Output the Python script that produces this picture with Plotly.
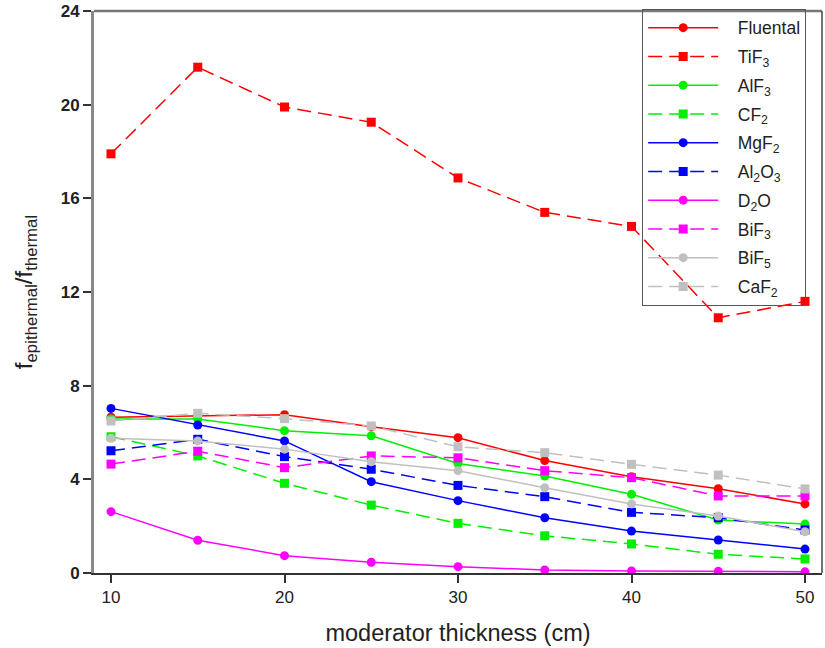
import plotly.graph_objects as go

x = [10, 15, 20, 25, 30, 35, 40, 45, 50]
fluental = [6.65, 6.7, 6.76, 6.25, 5.78, 4.8, 4.11, 3.6, 2.95]
tif3 = [17.9, 21.6, 19.9, 19.25, 16.87, 15.4, 14.8, 10.9, 11.6]
alf3 = [6.58, 6.58, 6.08, 5.86, 4.68, 4.14, 3.36, 2.26, 2.09]
cf2 = [5.82, 5.0, 3.83, 2.9, 2.12, 1.59, 1.24, 0.8, 0.6]
mgf2 = [7.03, 6.32, 5.64, 3.9, 3.09, 2.36, 1.79, 1.41, 1.02]
al2o3 = [5.22, 5.71, 4.97, 4.43, 3.74, 3.26, 2.59, 2.36, 1.84]
d2o = [2.62, 1.40, 0.74, 0.46, 0.27, 0.13, 0.09, 0.07, 0.05]
bif3 = [4.65, 5.2, 4.5, 5.0, 4.92, 4.37, 4.07, 3.29, 3.29]
bif5 = [5.75, 5.64, 5.29, 4.75, 4.37, 3.64, 2.95, 2.43, 1.76]
caf2 = [6.49, 6.82, 6.59, 6.28, 5.39, 5.14, 4.64, 4.18, 3.59]

names = ["Fluental", "TiF<sub>3</sub>", "AlF<sub>3</sub>", "CF<sub>2</sub>", "MgF<sub>2</sub>",
         "Al<sub>2</sub>O<sub>3</sub>", "D<sub>2</sub>O", "BiF<sub>3</sub>", "BiF<sub>5</sub>", "CaF<sub>2</sub>"]
series = [fluental, tif3, alf3, cf2, mgf2, al2o3, d2o, bif3, bif5, caf2]
colors = ["#FF0000", "#FF0000", "#00F000", "#00F000", "#0000FF", "#0000FF",
          "#FF00FF", "#FF00FF", "#C0C0C0", "#C0C0C0"]
dashed = [False, True] * 5

FONT = "Arial, Liberation Sans, sans-serif"

fig = go.Figure()
for i, (name, y, c, d) in enumerate(zip(names, series, colors, dashed)):
    fig.add_trace(go.Scatter(
        x=x, y=y, name="&nbsp;&nbsp;&nbsp;" + name, mode="lines+markers",
        legendgroup="g%d" % i,
        line=dict(color=c, width=1.5, dash="14px,7px" if d else "solid"),
        marker=dict(color=c, size=9, symbol="square" if d else "circle",
                    line=dict(width=0)),
    ))

fig.update_layout(
    width=825, height=648,
    margin=dict(l=94, r=3, t=11, b=75),
    paper_bgcolor="white", plot_bgcolor="white",
    font=dict(family=FONT, color="#222"),
    showlegend=True,
    legend=dict(
        x=0.753, y=1.004, xanchor="left", yanchor="top",
        bgcolor="rgba(0,0,0,0)", bordercolor="#555", borderwidth=1,
        font=dict(size=17.5, family=FONT, color="#222"),
        itemwidth=70, tracegroupgap=3,
    ),
    xaxis=dict(
        range=[9.02, 50.98], tickvals=[10, 20, 30, 40, 50],
        showgrid=False, zeroline=False,
        showline=True, linecolor="#333", linewidth=1.5,
        ticks="outside", ticklen=8, tickcolor="#333", tickwidth=1.5,
        tickfont=dict(size=17, family=FONT, color="#222"),
        title=dict(text="moderator thickness (cm)", font=dict(size=23.5, family=FONT, color="#222"),
                   standoff=18),
    ),
    yaxis=dict(
        range=[0, 24], tickvals=[0, 4, 8, 12, 16, 20, 24],
        showgrid=False, zeroline=False,
        showline=True, linecolor="#888", linewidth=3,
        ticks="outside", ticklen=8, tickcolor="#333", tickwidth=1.5,
        tickfont=dict(size=17, family=FONT, color="#222", weight="bold"),
        title=dict(text="f<sub>epithermal</sub>/f<sub>thermal</sub>",
                   font=dict(size=24, family=FONT, color="#222"), standoff=22),
    ),
    shapes=[
        dict(type="line", xref="paper", yref="paper", x0=0, x1=1, y0=1, y1=1,
             line=dict(color="#777", width=2.5)),
        dict(type="line", xref="paper", yref="paper", x0=1, x1=1, y0=0, y1=1,
             line=dict(color="#444", width=1.5)),
    ],
)

fig.write_html("out.html")
